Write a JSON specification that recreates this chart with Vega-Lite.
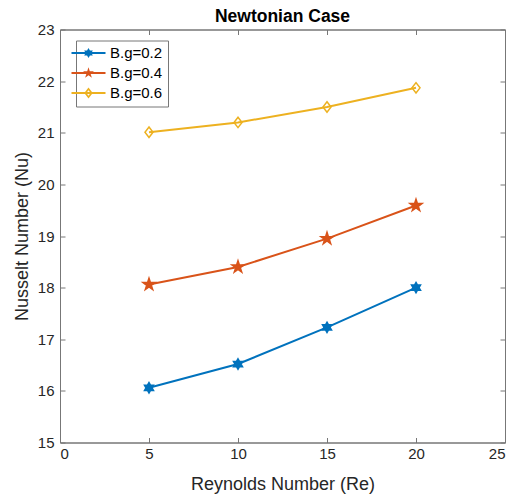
{
  "$schema": "https://vega.github.io/schema/vega-lite/v6.json",
  "autosize": "none",
  "width": 445,
  "height": 413,
  "padding": {"left": 60, "top": 29.5, "right": 10, "bottom": 53.5},
  "background": "white",
  "config": {
    "font": "Liberation Sans",
    "view": {"stroke": "#777777", "strokeWidth": 1},
    "axis": {
      "domainColor": "#777777",
      "tickColor": "#777777",
      "labelColor": "#262626",
      "titleColor": "#262626",
      "labelFont": "Liberation Sans",
      "titleFont": "Liberation Sans",
      "labelFontSize": 15,
      "titleFontSize": 18,
      "titleFontWeight": "normal",
      "grid": false,
      "tickSize": -5,
      "minExtent": 0
    }
  },
  "title": {
    "text": "Newtonian Case",
    "font": "Liberation Sans",
    "fontSize": 17.5,
    "fontWeight": "bold",
    "color": "#000000",
    "anchor": "middle",
    "offset": -3
  },
  "data": {
    "values": [
      {"Re": 5, "Nu": 16.06, "series": "B.g=0.2"},
      {"Re": 10, "Nu": 16.52, "series": "B.g=0.2"},
      {"Re": 15, "Nu": 17.23, "series": "B.g=0.2"},
      {"Re": 20, "Nu": 18.0, "series": "B.g=0.2"},
      {"Re": 5, "Nu": 18.06, "series": "B.g=0.4"},
      {"Re": 10, "Nu": 18.4, "series": "B.g=0.4"},
      {"Re": 15, "Nu": 18.95, "series": "B.g=0.4"},
      {"Re": 20, "Nu": 19.59, "series": "B.g=0.4"},
      {"Re": 5, "Nu": 21.01, "series": "B.g=0.6"},
      {"Re": 10, "Nu": 21.2, "series": "B.g=0.6"},
      {"Re": 15, "Nu": 21.5, "series": "B.g=0.6"},
      {"Re": 20, "Nu": 21.87, "series": "B.g=0.6"}
    ]
  },
  "layer": [
    {
      "mark": {"type": "line", "strokeWidth": 2},
      "encoding": {
        "x": {
          "field": "Re", "type": "quantitative",
          "scale": {"domain": [0, 25], "nice": false, "zero": false},
          "axis": {"orient": "bottom", "values": [0, 5, 10, 15, 20, 25], "title": "Reynolds Number (Re)", "labelPadding": 9, "titlePadding": 14}
        },
        "y": {
          "field": "Nu", "type": "quantitative",
          "scale": {"domain": [15, 23], "nice": false, "zero": false},
          "axis": {"orient": "left", "values": [15, 16, 17, 18, 19, 20, 21, 22, 23], "title": "Nusselt Number (Nu)", "labelPadding": 11, "titlePadding": 6}
        },
        "color": {
          "field": "series", "type": "nominal",
          "scale": {"domain": ["B.g=0.2", "B.g=0.4", "B.g=0.6"], "range": ["#0072BD", "#D95319", "#EDB120"]}
        }
      }
    },
    {
      "transform": [{"filter": "datum.series === 'B.g=0.2'"}],
      "mark": {"type": "point", "filled": true, "size": 144, "strokeWidth": 1.5, "opacity": 1, "color": "#0072BD", "stroke": "#0072BD",
        "shape": "M0,-0.87L0.251,-0.435L0.753,-0.435L0.502,0L0.753,0.435L0.251,0.435L0,0.87L-0.251,0.435L-0.753,0.435L-0.502,0L-0.753,-0.435L-0.251,-0.435Z"},
      "encoding": {
        "x": {"field": "Re", "type": "quantitative", "axis": null},
        "y": {"field": "Nu", "type": "quantitative", "axis": null}
      }
    },
    {
      "transform": [{"filter": "datum.series === 'B.g=0.4'"}],
      "mark": {"type": "point", "filled": true, "size": 144, "strokeWidth": 1.5, "opacity": 1, "color": "#D95319", "stroke": "#D95319",
        "shape": "M0,-1.05L0.236,-0.324L0.999,-0.324L0.381,0.124L0.617,0.849L0,0.401L-0.617,0.849L-0.381,0.124L-0.999,-0.324L-0.236,-0.324Z"},
      "encoding": {
        "x": {"field": "Re", "type": "quantitative", "axis": null},
        "y": {"field": "Nu", "type": "quantitative", "axis": null}
      }
    },
    {
      "transform": [{"filter": "datum.series === 'B.g=0.6'"}],
      "mark": {"type": "point", "filled": false, "size": 144, "strokeWidth": 1.5, "opacity": 1, "color": "#EDB120",
        "shape": "M0,-0.87L0.67,0L0,0.87L-0.67,0Z"},
      "encoding": {
        "x": {"field": "Re", "type": "quantitative", "axis": null},
        "y": {"field": "Nu", "type": "quantitative", "axis": null}
      }
    },
    {
      "transform": [{"filter": "false"}],
      "mark": {"type": "point", "filled": true, "opacity": 1, "strokeWidth": 0},
      "encoding": {
        "x": {"field": "Re", "type": "quantitative", "axis": {"orient": "top", "values": [0, 5, 10, 15, 20, 25], "labels": false, "title": null, "minExtent": 0}},
        "y": {"field": "Nu", "type": "quantitative", "axis": {"orient": "right", "values": [15, 16, 17, 18, 19, 20, 21, 22, 23], "labels": false, "title": null, "minExtent": 0}},
        "color": {
          "field": "series", "type": "nominal",
          "legend": {
            "title": null,
            "orient": "none",
            "legendX": 16,
            "legendY": 11,
            "padding": 5,
            "strokeColor": "#777777",
            "fillColor": "white",
            "labelFont": "Liberation Sans",
            "labelFontSize": 15,
            "labelColor": "#000000",
            "labelOffset": 14,
            "rowPadding": 4,
            "symbolSize": 100,
            "symbolStrokeWidth": 0,
            "symbolOpacity": 1
          }
        },
        "shape": {
          "field": "series", "type": "nominal",
          "scale": {
            "domain": ["B.g=0.2", "B.g=0.4", "B.g=0.6"],
            "range": [
              "M-3.4,-0.2L3.4,-0.2L3.4,0.2L-3.4,0.2ZM0,-1L0.289,-0.5L0.866,-0.5L0.577,0L0.866,0.5L0.289,0.5L0,1L-0.289,0.5L-0.866,0.5L-0.577,0L-0.866,-0.5L-0.289,-0.5Z",
              "M-3.4,-0.2L3.4,-0.2L3.4,0.2L-3.4,0.2ZM0,-1.15L0.258,-0.355L1.094,-0.355L0.417,0.136L0.676,0.93L0,0.44L-0.676,0.93L-0.417,0.136L-1.094,-0.355L-0.258,-0.355Z",
              "M-3.4,-0.2L3.4,-0.2L3.4,0.2L-3.4,0.2ZM0,-1.1L0.85,0L0,1.1L-0.85,0ZM0,-0.55L-0.42,0L0,0.55L0.42,0Z"
            ]
          },
          "legend": {
            "title": null,
            "orient": "none",
            "legendX": 16,
            "legendY": 11,
            "padding": 5,
            "strokeColor": "#777777",
            "fillColor": "white",
            "labelFont": "Liberation Sans",
            "labelFontSize": 15,
            "labelColor": "#000000",
            "labelOffset": 14,
            "rowPadding": 4,
            "symbolSize": 100,
            "symbolStrokeWidth": 0,
            "symbolOpacity": 1
          }
        }
      }
    }
  ],
  "resolve": {"axis": {"x": "independent", "y": "independent"}}
}
